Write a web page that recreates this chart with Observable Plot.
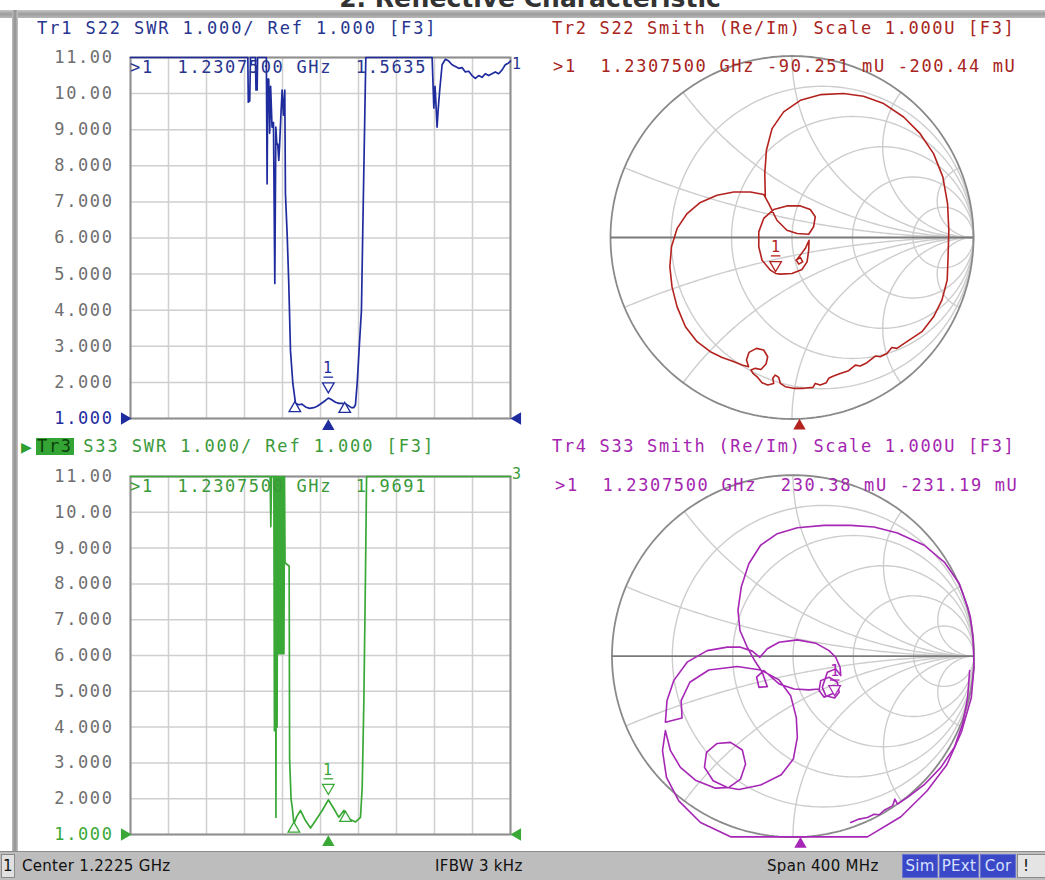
<!DOCTYPE html>
<html><head><meta charset="utf-8">
<script src="https://cdn.jsdelivr.net/npm/d3@7"></script>
<script src="https://cdn.jsdelivr.net/npm/@observablehq/plot@0.6"></script>
<style>
html,body{margin:0;padding:0;}
body{width:1045px;height:880px;overflow:hidden;background:#fff;position:relative;}
.a{position:absolute;}
.mono{font-family:"DejaVu Sans Mono",monospace;font-size:17px;letter-spacing:1.65px;white-space:pre;line-height:17px;}
#title{left:0;width:1060px;top:-14px;text-align:center;font:bold 25px "DejaVu Sans";color:#333;line-height:25px;}
#topbar{left:0;top:10px;width:1045px;height:8px;background:linear-gradient(#c8c8c8,#9c9c9c 50%,#b8b8b8);}
#leftbar{left:12px;top:10px;width:6px;height:842px;background:linear-gradient(90deg,#bdbdbd,#909090,#c4c4c4);}
#status{left:0;top:851px;width:1045px;height:29px;background:#bdbdbd;border-top:1px solid #8a8a8a;font:15px "DejaVu Sans";color:#111;}
#status .a{top:5px;white-space:pre;letter-spacing:0.3px;}
.box{top:2px !important;height:22px;line-height:22px;text-align:center;background:#3a48c8;color:#d8e0ff;border:1px solid #6a74d0;}
</style></head><body>
<div id="title" class="a">2. Reflective Characteristic</div>
<div id="topbar" class="a"></div>
<div id="leftbar" class="a"></div>

<div id="p1" class="a" style="left:0;top:40px;"></div>
<div id="p2" class="a" style="left:530px;top:40px;"></div>
<div id="p3" class="a" style="left:0;top:440px;"></div>
<div id="p4" class="a" style="left:530px;top:440px;"></div>

<div class="a mono" style="left:37px;top:20px;color:#27358f;letter-spacing:1.9px;">Tr1 S22 SWR 1.000/ Ref 1.000 [F3]</div>
<div class="a mono" style="left:552px;top:20px;color:#a82420;">Tr2 S22 Smith (Re/Im) Scale 1.000U [F3]</div>
<div class="a mono" style="left:21px;top:438px;color:#2e9e2e;font-size:18px;letter-spacing:0;">&#9654;</div>
<div class="a mono" style="left:36px;top:438px;color:#0c3f0c;background:#34a534;padding:0 1px;">Tr3</div>
<div class="a mono" style="left:71px;top:438px;color:#3a9a3a;letter-spacing:1.9px;"> S33 SWR 1.000/ Ref 1.000 [F3]</div>
<div class="a mono" style="left:552px;top:438px;color:#a425b0;">Tr4 S33 Smith (Re/Im) Scale 1.000U [F3]</div>

<div class="a mono" style="left:130px;top:59px;color:#27358f;">&gt;1  1.2307500 GHz  1.5635</div>
<div class="a mono" style="left:553px;top:58px;color:#a82420;">&gt;1  1.2307500 GHz -90.251 mU -200.44 mU</div>
<div class="a mono" style="left:130px;top:478px;color:#3a9a3a;">&gt;1  1.2307500 GHz  1.9691</div>
<div class="a mono" style="left:555px;top:477px;color:#a425b0;">&gt;1  1.2307500 GHz  230.38 mU -231.19 mU</div>
<div class="a mono" style="left:512px;top:56px;color:#27358f;font-size:15px;">1</div>
<div class="a mono" style="left:512px;top:466px;color:#3a9a3a;font-size:15px;">3</div>

<div id="status" class="a">
  <div class="a" style="left:1px;top:2px;width:12px;height:22px;background:#e0e0e0;border:1px solid #8a8a8a;text-align:center;line-height:22px;">1</div>
  <div class="a" style="left:22px;">Center 1.2225 GHz</div>
  <div class="a" style="left:435px;">IFBW 3 kHz</div>
  <div class="a" style="left:767px;">Span 400 MHz</div>
  <div class="a box" style="left:902px;width:34px;">Sim</div>
  <div class="a box" style="left:939px;width:38px;">PExt</div>
  <div class="a box" style="left:980px;width:34px;">Cor</div>
  <div class="a" style="left:1017px;top:2px;width:30px;height:22px;background:#e4e4e4;border:1px solid #8a8a8a;line-height:22px;">&nbsp;!</div>
</div>

<script>
// ---------- data ----------
const fStart = 1022.5;      // MHz (Center 1.2225 GHz - Span/2)
const fSpan = 400;          // MHz
const xGridMHz = [1022.5, 1062.5, 1102.5, 1142.5, 1182.5, 1222.5, 1262.5, 1302.5, 1342.5, 1382.5, 1422.5];
const swrTicks = [1, 2, 3, 4, 5, 6, 7, 8, 9, 10, 11];
const refLevel = 1;
const markerFreq = 1230.75;

// Tr1 S22 SWR (values above 11 shown clipped at 11)
const tr1Freq = [1022.5, 1146.0, 1146.5, 1148.0, 1148.8, 1154.0, 1154.6, 1155.8, 1156.3, 1165.5, 1166.3, 1167.0, 1168.0, 1169.0, 1170.0, 1171.5, 1173.0, 1174.4, 1175.5, 1176.5, 1177.5, 1178.6, 1179.5, 1181.0, 1182.1, 1183.5, 1184.9, 1185.6, 1187.4, 1189.1, 1190.9, 1193.4, 1196.2, 1199.7, 1203.0, 1206.7, 1211.0, 1215.5, 1219.0, 1222.5, 1227.7, 1230.75, 1233.0, 1238.3, 1242.0, 1245.3, 1249.0, 1252.3, 1255.0, 1257.6, 1259.3, 1261.1, 1263.5, 1265.6, 1267.0, 1269.1, 1270.2, 1340.0, 1341.8, 1343.0, 1343.5, 1345.2, 1346.5, 1348.0, 1350.5, 1354.0, 1357.5, 1361.0, 1364.5, 1368.0, 1371.5, 1375.0, 1378.5, 1382.0, 1385.5, 1389.0, 1392.5, 1396.0, 1399.5, 1403.0, 1406.5, 1410.0, 1413.5, 1417.0, 1420.5, 1422.5];
const tr1Swr = [11, 11, 9.76, 9.8, 11, 11, 10.1, 10.1, 11, 11, 7.5, 10.4, 10.4, 8.9, 10.2, 9.07, 9.2, 4.74, 9.07, 8.6, 8.6, 8.15, 8.6, 9.5, 10.1, 9.4, 10.1, 7.23, 6.1, 4.74, 2.88, 1.97, 1.42, 1.38, 1.4, 1.32, 1.28, 1.3, 1.34, 1.4, 1.5, 1.5635, 1.54, 1.45, 1.42, 1.42, 1.4, 1.35, 1.3, 1.3, 1.38, 1.97, 3.07, 4.0, 6.2, 9.35, 11, 11, 9.6, 10.2, 10.0, 9.07, 9.6, 10.1, 10.8, 10.95, 10.9, 10.8, 10.75, 10.7, 10.72, 10.6, 10.62, 10.5, 10.42, 10.5, 10.45, 10.55, 10.5, 10.55, 10.6, 10.55, 10.65, 10.8, 10.85, 10.9];
const tr1DeltaF = [1195.5, 1248.0];
const tr1DeltaV = [1.42, 1.4];
const tr1Marker = 1.5635;

// Tr3 S33 SWR
const tr3Freq = [1022.5, 1169.5, 1170.2, 1171.0, 1173.4, 1174.0, 1174.6, 1175.2, 1175.6, 1176.2, 1176.8, 1177.4, 1178.0, 1178.6, 1179.2, 1179.8, 1180.4, 1181.0, 1181.6, 1182.2, 1182.8, 1183.4, 1184.0, 1184.6, 1185.2, 1186.0, 1189.5, 1190.0, 1191.5, 1193.0, 1194.5, 1197.5, 1201.5, 1206.7, 1212.0, 1217.3, 1224.3, 1230.75, 1236.6, 1241.8, 1247.1, 1252.4, 1259.4, 1264.6, 1266.4, 1268.1, 1269.9, 1271.0, 1422.5];
const tr3Swr = [11, 11, 9.6, 11, 11, 3.9, 11, 11, 1.48, 11, 4.0, 11, 6.05, 11, 6.05, 11, 6.05, 11, 6.05, 11, 6.05, 11, 6.05, 11, 8.6, 8.57, 8.5, 3.1, 2.0, 1.7, 1.3, 1.5, 1.67, 1.39, 1.18, 1.39, 1.67, 1.9691, 1.72, 1.48, 1.67, 1.44, 1.35, 1.48, 2.32, 4.65, 8.37, 11, 11];
const tr3DeltaF = [1194.5, 1248.8];
const tr3DeltaV = [1.3, 1.6];
const tr3Marker = 1.9691;

// Smith chart grid values
const smithR = [0.2, 0.5, 1, 2, 5];
const smithX = [0.2, 0.5, 1, 2, 5];

// Tr2 S22 reflection coefficient trace [Re, Im]
const s22Gamma = [[-0.147,0.224],[-0.150,0.352],[-0.141,0.481],[-0.110,0.600],[-0.046,0.692],[0.046,0.756],[0.156,0.787],[0.284,0.793],[0.394,0.778],[0.505,0.738],[0.615,0.664],[0.706,0.572],[0.780,0.462],[0.831,0.334],[0.857,0.187],[0.864,0.040],[0.860,-0.106],[0.855,-0.235],[0.826,-0.345],[0.780,-0.437],[0.716,-0.519],[0.633,-0.574],[0.578,-0.611],[0.550,-0.606],[0.523,-0.639],[0.486,-0.657],[0.459,-0.653],[0.413,-0.690],[0.376,-0.708],[0.349,-0.703],[0.312,-0.734],[0.266,-0.749],[0.229,-0.763],[0.202,-0.776],[0.189,-0.800],[0.156,-0.813],[0.128,-0.804],[0.116,-0.826],[0.064,-0.831],[0.009,-0.831],[-0.037,-0.822],[-0.064,-0.804],[-0.073,-0.771],[-0.092,-0.758],[-0.106,-0.776],[-0.101,-0.804],[-0.134,-0.813],[-0.165,-0.800],[-0.189,-0.771],[-0.215,-0.749],[-0.226,-0.730],[-0.202,-0.721],[-0.171,-0.727],[-0.143,-0.697],[-0.134,-0.657],[-0.156,-0.620],[-0.196,-0.611],[-0.237,-0.633],[-0.251,-0.675],[-0.239,-0.712],[-0.275,-0.703],[-0.330,-0.681],[-0.385,-0.661],[-0.450,-0.629],[-0.523,-0.574],[-0.587,-0.492],[-0.633,-0.382],[-0.661,-0.272],[-0.673,-0.161],[-0.664,-0.051],[-0.633,0.050],[-0.578,0.132],[-0.505,0.193],[-0.413,0.233],[-0.321,0.251],[-0.229,0.251],[-0.156,0.237],[-0.128,0.187],[-0.083,0.095],[-0.028,0.040],[0.028,0.022],[0.092,0.018],[0.119,0.059],[0.128,0.114],[0.101,0.154],[0.046,0.174],[-0.028,0.174],[-0.101,0.154],[-0.156,0.105],[-0.183,0.031],[-0.183,-0.051],[-0.165,-0.125],[-0.119,-0.180],[-0.090,-0.198],[-0.064,-0.202],[0.000,-0.198],[0.055,-0.176],[0.083,-0.134],[0.092,-0.070],[0.094,-0.015],[0.073,-0.061],[0.046,-0.097],[0.024,-0.125],[0.037,-0.147],[0.059,-0.134],[0.046,-0.110],[0.022,-0.125]];
const s22Marker = [-0.090251, -0.20044];

// Tr4 S33 reflection coefficient trace [Re, Im], two visible pieces
const s33Main = [[0.218,-0.208],[0.172,-0.227],[0.144,-0.190],[0.153,-0.135],[0.199,-0.116],[0.245,-0.144],[0.255,-0.199],[0.230,-0.231],[0.181,-0.218],[0.162,-0.172],[0.190,-0.089],[0.236,-0.070],[0.264,-0.107],[0.260,-0.061],[0.236,-0.006],[0.199,0.031],[0.125,0.072],[0.024,0.090],[-0.077,0.077],[-0.142,0.041],[-0.183,-0.006],[-0.225,0.028],[-0.290,0.050],[-0.363,0.050],[-0.474,0.031],[-0.585,-0.033],[-0.659,-0.135],[-0.696,-0.245],[-0.705,-0.365],[-0.613,-0.341],[-0.618,-0.245],[-0.570,-0.144],[-0.465,-0.076],[-0.308,-0.057],[-0.179,-0.076],[-0.077,-0.131],[-0.013,-0.218],[0.018,-0.338],[0.024,-0.448],[0.002,-0.568],[-0.065,-0.655],[-0.179,-0.712],[-0.299,-0.736],[-0.363,-0.725],[-0.441,-0.688],[-0.489,-0.614],[-0.478,-0.531],[-0.419,-0.482],[-0.345,-0.476],[-0.280,-0.518],[-0.262,-0.596],[-0.290,-0.679],[-0.354,-0.725],[-0.428,-0.729],[-0.539,-0.685],[-0.622,-0.614],[-0.677,-0.522],[-0.705,-0.411],[-0.721,-0.522],[-0.699,-0.670],[-0.631,-0.799],[-0.511,-0.919],[-0.345,-0.998],[0.024,-0.998],[0.411,-0.998],[0.596,-0.887],[0.740,-0.745],[0.850,-0.600],[0.930,-0.420],[0.985,-0.230],[1.000,-0.060],[0.995,0.100],[0.980,0.216],[0.965,0.271],[0.919,0.400],[0.836,0.520],[0.725,0.613],[0.577,0.681],[0.448,0.714],[0.319,0.723],[0.172,0.723],[0.024,0.710],[-0.087,0.677],[-0.179,0.613],[-0.244,0.511],[-0.286,0.382],[-0.304,0.253],[-0.293,0.142],[-0.253,0.050],[-0.212,-0.024],[-0.170,-0.089],[-0.142,-0.168],[-0.188,-0.172],[-0.201,-0.116],[-0.161,-0.079],[-0.077,-0.153],[0.006,-0.181],[0.089,-0.186],[0.144,-0.181]];
const s33Edge = [[0.319,-0.919],[0.365,-0.900],[0.411,-0.891],[0.448,-0.873],[0.476,-0.876],[0.504,-0.851],[0.550,-0.827],[0.563,-0.790],[0.577,-0.817],[0.633,-0.780],[0.725,-0.710],[0.817,-0.614],[0.891,-0.504],[0.937,-0.375],[0.965,-0.227],[0.976,-0.079]];
const s33Marker = [0.23038, -0.23119];

// ---------- colours ----------
const C1 = "#1f2c9e", C2 = "#b3221e", C3 = "#3aa836", C4 = "#a626b5";
const MONO = "DejaVu Sans Mono";
const fmtSwr = d => d >= 10 ? d.toFixed(2) : d.toFixed(3);
// short horizontal bar symbol drawn under the marker number
const barSymbol = {draw(ctx, size) { const w = Math.sqrt(size) * 0.6; ctx.moveTo(-w, 0); ctx.lineTo(w, 0); }};

function swrPlot(o) {
  const data = o.freq.map((f, i) => ({f, v: o.swr[i]}));
  const deltas = o.deltaF.map((f, i) => ({f, v: o.deltaV[i]}));
  const mk = [{f: markerFreq, v: o.marker}];
  const ref = [{f: fStart, v: refLevel}];
  const refR = [{f: fStart + fSpan, v: refLevel}];
  const stim = [{f: markerFreq, v: refLevel}];
  return Plot.plot({
    width: 530, height: o.height,
    marginLeft: 130, marginRight: 20, marginTop: o.mt, marginBottom: o.mb,
    x: {domain: [fStart, fStart + fSpan], axis: null},
    y: {domain: [1, 11], axis: null},
    style: "background:transparent;overflow:visible;letter-spacing:1.6px;",
    marks: [
      Plot.gridX(xGridMHz, {stroke: "#cfcfcf", strokeOpacity: 1, strokeWidth: 1.5}),
      Plot.gridY(swrTicks, {stroke: "#cfcfcf", strokeOpacity: 1, strokeWidth: 1.5}),
      Plot.frame({stroke: "#8e8e8e", strokeWidth: 2}),
      Plot.text(swrTicks.filter(d => d !== refLevel), {x: () => fStart, y: d => d, text: fmtSwr, textAnchor: "end", dx: -17, fill: "#6f6f6f", fontFamily: MONO, fontSize: 17}),
      Plot.text([refLevel], {x: () => fStart, y: d => d, text: fmtSwr, textAnchor: "end", dx: -17, fill: o.color, fontFamily: MONO, fontSize: 17}),
      Plot.line(data, {x: "f", y: "v", stroke: o.color, strokeWidth: 1.7}),
      Plot.dot(deltas, {x: "f", y: "v", symbol: "triangle", r: 4.3, dy: 5, fill: "white", stroke: o.color, strokeWidth: 1.3}),
      Plot.dot(mk, {x: "f", y: "v", symbol: "triangle", rotate: 180, r: 4.3, dy: -12, fill: "white", stroke: o.color, strokeWidth: 1.3}),
      Plot.dot(mk, {x: "f", y: "v", symbol: barSymbol, r: 4.5, dy: -21, stroke: o.color, strokeWidth: 1.3}),
      Plot.text(mk, {x: "f", y: "v", text: () => "1", dy: -30, fill: o.color, fontFamily: MONO, fontSize: 15}),
      Plot.dot(ref, {x: "f", y: "v", symbol: "triangle", rotate: 90, r: 4.6, dx: -6, fill: o.color}),
      Plot.dot(refR, {x: "f", y: "v", symbol: "triangle", rotate: -90, r: 4.6, dx: 7, fill: o.color}),
      Plot.dot(stim, {x: "f", y: "v", symbol: "triangle", r: 4.6, dy: 8, fill: o.color})
    ]
  });
}

function circlePts(cx, cy, rad, id, n) {
  return d3.range(n + 1).map(i => ({x: cx + rad * Math.cos(2 * Math.PI * i / n), y: cy + rad * Math.sin(2 * Math.PI * i / n), id}));
}
function smithGrid(rs, xs) {
  const pts = [];
  rs.forEach((r, k) => pts.push(...circlePts(r / (1 + r), 0, 1 / (1 + r), "r" + k, 160)));
  xs.forEach((xv, k) => [1, -1].forEach(s => {
    const X = s * xv, cy = 1 / X, rad = Math.abs(1 / X);
    const px = (X * X - 1) / (X * X + 1), py = 2 * X / (X * X + 1);
    const a0 = Math.atan2(py - cy, px - 1);
    let a1;
    if (s > 0) { a1 = -Math.PI / 2; while (a1 < a0) a1 += 2 * Math.PI; }
    else { a1 = Math.PI / 2; while (a1 > a0) a1 -= 2 * Math.PI; }
    const n = 100;
    for (let i = 0; i <= n; i++) {
      const a = a0 + (a1 - a0) * i / n;
      pts.push({x: 1 + rad * Math.cos(a), y: cy + rad * Math.sin(a), id: "x" + k + s});
    }
  }));
  return pts;
}

function smithPlot(o) {
  const grid = smithGrid(smithR, smithX);
  const outer = circlePts(0, 0, 1, "u", 240);
  const trace = o.segments.flatMap((seg, k) => seg.map(([re, im]) => ({re, im, k})));
  const mk = [{re: o.marker[0], im: o.marker[1]}];
  const stim = [{re: -1 + 2 * (markerFreq - fStart) / fSpan, im: -1}];
  return Plot.plot({
    width: 515, height: o.height,
    marginLeft: o.ml, marginRight: o.mr, marginTop: o.mt, marginBottom: o.mb,
    x: {domain: [-1, 1], axis: null},
    y: {domain: [-1, 1], axis: null},
    style: "background:transparent;overflow:visible;",
    marks: [
      Plot.line(grid, {x: "x", y: "y", z: "id", stroke: "#cdcdcd", strokeWidth: 1.4}),
      Plot.line(outer, {x: "x", y: "y", stroke: "#8a8a8a", strokeWidth: 1.8}),
      Plot.ruleY([0], {x1: -1, x2: 1, stroke: "#7a7a7a", strokeWidth: 1.8}),
      Plot.line(trace, {x: "re", y: "im", z: "k", stroke: o.color, strokeWidth: 1.6}),
      Plot.dot(mk, {x: "re", y: "im", symbol: "triangle", rotate: 180, r: 4.3, dy: -9, fill: "white", stroke: o.color, strokeWidth: 1.3}),
      Plot.dot(mk, {x: "re", y: "im", symbol: barSymbol, r: 4.5, dy: -18, stroke: o.color, strokeWidth: 1.3}),
      Plot.text(mk, {x: "re", y: "im", text: () => "1", dy: -27, fill: o.color, fontFamily: MONO, fontSize: 15}),
      Plot.dot(stim, {x: "re", y: "im", symbol: "triangle", r: 4.6, dy: 7, fill: o.color})
    ]
  });
}

document.getElementById("p1").append(swrPlot({freq: tr1Freq, swr: tr1Swr, deltaF: tr1DeltaF, deltaV: tr1DeltaV, marker: tr1Marker, color: C1, height: 400, mt: 17, mb: 22}));
document.getElementById("p3").append(swrPlot({freq: tr3Freq, swr: tr3Swr, deltaF: tr3DeltaF, deltaV: tr3DeltaV, marker: tr3Marker, color: C3, height: 410, mt: 36, mb: 16}));
document.getElementById("p2").append(smithPlot({segments: [s22Gamma], marker: s22Marker, color: C2, height: 400, ml: 80, mr: 72, mt: 15.5, mb: 21.5}));
document.getElementById("p4").append(smithPlot({segments: [s33Main, s33Edge], marker: s33Marker, color: C4, height: 410, ml: 81.5, mr: 71.5, mt: 34.7, mb: 13.3}));
</script>
</body></html>
